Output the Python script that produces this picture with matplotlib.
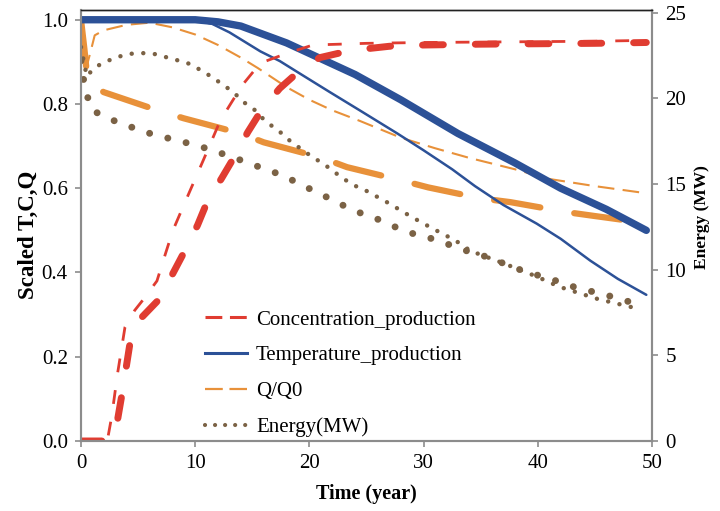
"""
Scaled temperature, concentration, flow and energy at the production well
"""
import matplotlib.pyplot as plt
from matplotlib.lines import Line2D

plt.rcParams['font.family'] = ['Liberation Serif', 'DejaVu Serif']

# ---- data (two cases: thick and thin lines) ----
# concentration, scaled
conc_a_t = [0, 2.5, 3.2, 3.6, 4.3, 5.3, 6.9, 8.05, 9.1, 10.2, 11.1, 12.3, 13.5, 14.6,
            15.8, 17.4, 19.1, 20.9, 23.6, 27, 30, 35, 40, 45, 49.5]
conc_a = [0, 0, 0.05, 0.113, 0.234, 0.293, 0.338, 0.398, 0.452, 0.512, 0.571, 0.623,
          0.678, 0.733, 0.785, 0.837, 0.878, 0.91, 0.927, 0.937, 0.94, 0.942, 0.943,
          0.944, 0.946]
conc_b_t = [0, 2.3, 2.7, 3.2, 3.85, 4.7, 5.4, 6.65, 7.4, 8.05, 9.0, 10.7, 12.2, 14.1,
            15.7, 18, 20.3, 25, 30, 35, 40, 45, 49.5]
conc_b = [0, 0, 0.06, 0.16, 0.27, 0.31, 0.334, 0.38, 0.445, 0.5, 0.56, 0.666, 0.761,
          0.844, 0.897, 0.92, 0.94, 0.944, 0.946, 0.947, 0.948, 0.949, 0.951]

# temperature, scaled
temp_a_t = [0, 10, 12, 14, 16, 18, 20, 24, 28, 33, 38, 42, 46, 49.5]
temp_a = [1.0, 1.0, 0.995, 0.985, 0.965, 0.945, 0.92, 0.87, 0.81, 0.73, 0.66, 0.60,
          0.55, 0.50]
temp_b_t = [0, 10, 11.5, 13, 15.7, 17.4, 19, 21.8, 24.4, 27.7, 30, 32.5, 34.5, 37,
            39.9, 42, 44.6, 47, 49.5]
temp_b = [1.0, 1.0, 0.99, 0.97, 0.925, 0.902, 0.875, 0.828, 0.785, 0.73, 0.69, 0.645,
          0.605, 0.56, 0.516, 0.48, 0.428, 0.385, 0.347]

# flow rate Q/Q0
q_a_t = [0, 0.3, 0.6, 2, 6.7, 9, 14, 16, 21, 23.3, 28, 30.4, 35, 37.6, 42.6, 45, 49.6]
q_a = [1.0, 0.93, 0.85, 0.828, 0.785, 0.766, 0.73, 0.709, 0.673, 0.65, 0.619, 0.602,
       0.576, 0.567, 0.543, 0.534, 0.517]
q_b_t = [0, 0.4, 0.8, 1.2, 2, 4, 6, 8, 10, 12, 14, 15.5, 18, 20, 22, 24.4, 28, 31, 34,
         38, 41, 45, 49]
q_b = [1.0, 0.88, 0.92, 0.963, 0.975, 0.988, 0.993, 0.982, 0.965, 0.94, 0.91, 0.885,
       0.84, 0.81, 0.785, 0.76, 0.72, 0.695, 0.672, 0.645, 0.622, 0.605, 0.59]

# energy (MW), right axis
energy_a_t = [0, 0.35, 1.0, 2.5, 4.1, 5.8, 7.5, 9.3, 10.9, 12.7, 14.4, 16, 17.7, 19.3,
              20.9, 22.5, 24.1, 25.8, 27.5, 29.1, 30.8, 32.5, 34.2, 35.8, 37.6, 39.3,
              41, 42.6, 44.3, 46.1, 47.9, 48.5]
energy_a = [22.2, 20.5, 19.3, 18.8, 18.4, 18.0, 17.7, 17.4, 17.1, 16.7, 16.3, 15.9,
            15.5, 14.95, 14.45, 13.9, 13.4, 13.0, 12.5, 12.1, 11.8, 11.4, 11.0, 10.7,
            10.2, 9.8, 9.5, 9.1, 8.8, 8.5, 8.15, 8.0]
energy_b_t = [0, 0.5, 1.2, 2, 3.1, 4.2, 5.3, 6.4, 7.5, 8.6, 9.6, 10.6, 11.6, 12.4, 13.3,
              14.2, 15.1, 15.8, 16.7, 17.6, 18.5, 19.4, 20.2, 21.2, 22.1, 23, 24, 25,
              26.9, 28.9, 30.8, 32.8, 34.1, 36.9, 39.9, 41.9, 45.2, 48.3]
energy_b = [23.0, 21.3, 21.8, 22.1, 22.4, 22.6, 22.65, 22.6, 22.4, 22.2, 22.0, 21.6,
            21.2, 20.8, 20.4, 19.8, 19.4, 18.9, 18.4, 17.95, 17.4, 17.0, 16.6, 16.2,
            15.75, 15.3, 14.9, 14.6, 13.9, 13.1, 12.4, 11.7, 11.1, 10.4, 9.6, 9.0,
            8.3, 7.8]

legend_labels = ['Concentration_production', 'Temperature_production', 'Q/Q0',
                 'Energy(MW)']

RED = '#e03c31'
BLUE = '#2c5197'
ORANGE = '#e8913a'
BROWN = '#7b6245'
GREY = '#8c8c8c'

fig = plt.figure(figsize=(7.2, 5.11), dpi=100)
ax = fig.add_axes([0.1125, 0.137, 0.7931, 0.843])
ax2 = ax.twinx()

# left axis curves
ax.plot(q_a_t, q_a, color=ORANGE, lw=4.5, ls=(0, (7.5, 5.5)), dash_capstyle='round')
ax.plot(q_b_t, q_b, color=ORANGE, lw=1.5, ls=(0, (8, 4)))
ax.plot(temp_a_t, temp_a, color=BLUE, lw=5.3, solid_capstyle='round')
ax.plot(temp_b_t, temp_b, color=BLUE, lw=1.8, solid_capstyle='round')
ax.plot(conc_a_t, conc_a, color=RED, lw=5, ls=(0, (3, 4.6)), dash_capstyle='round')
ax.plot(conc_b_t, conc_b, color=RED, lw=2, ls=(0, (5, 6.5)))

# right axis curves
ax2.plot(energy_a_t, energy_a, color=BROWN, lw=5, ls=(0, (0.01, 2.7)),
         dash_capstyle='round')
ax2.plot(energy_b_t, energy_b, color=BROWN, lw=3.2, ls=(0, (0.01, 2.6)),
         dash_capstyle='round')

ax.set_xlim(0, 50)
ax.set_ylim(0, 1.0226)
ax2.set_ylim(0, 25.15)
ax.set_xticks(range(0, 51, 10))
ax.set_yticks([0, 0.2, 0.4, 0.6, 0.8, 1.0])
ax.set_yticklabels(['0.0', '0.2', '0.4', '0.6', '0.8', '1.0'])
ax2.set_yticks(range(0, 26, 5))

for a in (ax, ax2):
    for side in ('left', 'right', 'bottom'):
        a.spines[side].set_color(GREY)
        a.spines[side].set_linewidth(1.5)
    a.spines['top'].set_color('#222222')
    a.spines['top'].set_linewidth(1.0)
    a.tick_params(axis='both', direction='out', length=4.5, width=1.2, color=GREY,
                  labelsize=15, pad=5)

ax.set_xlabel('Time (year)', fontsize=14.5, fontweight='bold', labelpad=8)
ax.set_ylabel('Scaled T,C,Q', fontsize=16.5, fontweight='bold', labelpad=2)
ax2.set_ylabel('Energy (MW)', fontsize=12.5, fontweight='bold', labelpad=6)
ax.yaxis.label.set_y(0.478)
ax2.yaxis.label.set_y(0.52)

# legend with proxy lines
handles = [
    Line2D([], [], color=RED, lw=2.2, ls=(0, (5.5, 2.5))),
    Line2D([], [], color=BLUE, lw=2.2),
    Line2D([], [], color=ORANGE, lw=1.6, ls=(0, (8, 3))),
    Line2D([], [], color=BROWN, lw=3, ls=(0, (0.01, 2.4)), dash_capstyle='round'),
]
ax2.legend(handles, legend_labels, loc='upper left', frameon=False,
           bbox_to_anchor=(205 / 720, 1 - 310 / 511), bbox_transform=fig.transFigure,
           fontsize=15, handlelength=2.0, handletextpad=0.45, labelspacing=0.78,
           borderpad=0, borderaxespad=0)

plt.savefig('out.png', dpi=100)
